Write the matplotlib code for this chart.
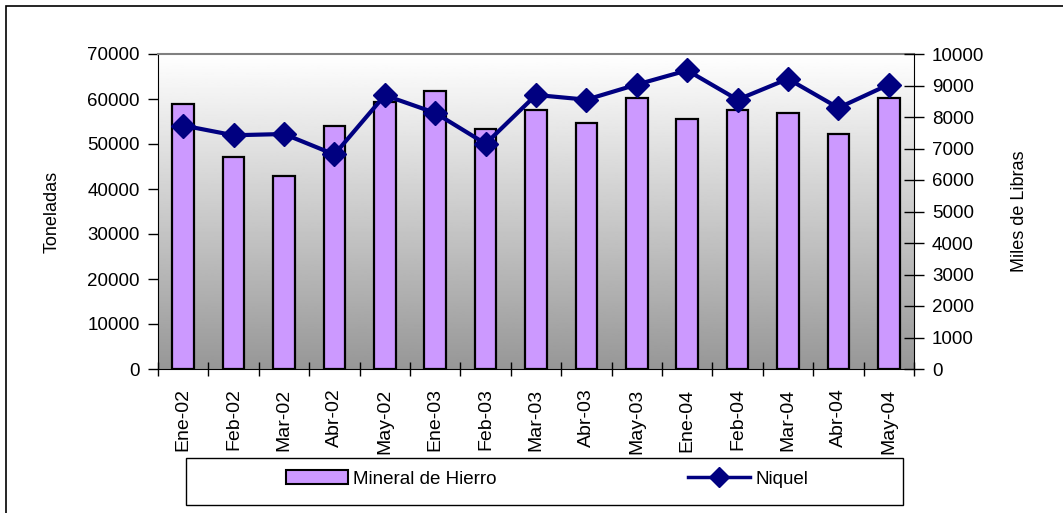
import numpy as np
import matplotlib.pyplot as plt
from matplotlib.patches import Rectangle
from matplotlib.lines import Line2D

plt.rcParams['font.family'] = ['Liberation Sans', 'DejaVu Sans']

meses = ['Ene-02', 'Feb-02', 'Mar-02', 'Abr-02', 'May-02',
         'Ene-03', 'Feb-03', 'Mar-03', 'Abr-03', 'May-03',
         'Ene-04', 'Feb-04', 'Mar-04', 'Abr-04', 'May-04']
hierro = [58900, 47200, 43000, 54100, 59400,
          61700, 53300, 57500, 54700, 60300,
          55600, 57500, 57000, 52300, 60300]
niquel = [7730, 7420, 7460, 6810, 8690,
          8130, 7150, 8700, 8550, 9030,
          9480, 8550, 9210, 8290, 9030]

W, H = 1063, 513
fig = plt.figure(figsize=(W / 100, H / 100), dpi=100)
ax = fig.add_axes([158 / W, 1 - 369 / H, (914 - 158) / W, (369 - 54) / H])

# fondo degradado (blanco arriba, gris abajo)
grad = np.linspace(0, 1, 256).reshape(-1, 1)
ax.imshow(grad, cmap='gray', vmin=-1.45, vmax=1, aspect='auto', origin='lower',
          extent=[0, 1, 0, 1], transform=ax.transAxes, zorder=0)

x = np.arange(len(meses))
ax.bar(x, hierro, width=0.43, color='#CC99FF', edgecolor='black', linewidth=1.6, zorder=2)
ax.set_xlim(-0.5, len(meses) - 0.5)
ax.set_ylim(0, 70000)
ax.set_yticks(np.arange(0, 70001, 10000))
ax.set_xticks(x)
ax.set_xticklabels(meses, rotation=90, fontsize=14)
ax.set_xticks(np.arange(-0.5, len(meses), 1), minor=True)
ax.tick_params(axis='x', which='major', length=0, pad=14)
ax.tick_params(axis='x', which='minor', length=10, direction='inout', width=1)
ax.tick_params(axis='y', labelsize=13.5, length=7, direction='out', width=1, pad=6)
ax.set_ylabel('Toneladas', fontsize=13, labelpad=19)
ax.spines['top'].set_color('#808080')
ax.spines['top'].set_linewidth(1.5)
ax.spines['right'].set_visible(False)

ax2 = ax.twinx()
ax2.plot(x, niquel, color='#000080', lw=3, marker='D', markersize=12, zorder=3)
ax2.set_ylim(0, 10000)
ax2.set_yticks(np.arange(0, 10001, 1000))
ax2.tick_params(axis='y', labelsize=13.5, length=14, direction='inout', width=1, pad=6)
ax2.set_ylabel('Miles de Libras', fontsize=13, labelpad=19)
ax2.spines['top'].set_visible(False)
ax2.spines['left'].set_visible(False)
ax2.spines['bottom'].set_visible(False)

# leyenda
fig.patches.append(Rectangle((186 / W, 1 - 505 / H), (903 - 186) / W, 47 / H,
                             transform=fig.transFigure, fill=False,
                             edgecolor='black', linewidth=1))
handles = [Rectangle((0, 0), 1, 1, facecolor='#CC99FF', edgecolor='black', linewidth=1.5),
           Line2D([], [], color='#000080', lw=2.5, marker='D', markersize=10)]
fig.legend(handles, ['Mineral de Hierro', 'Niquel'], loc='center',
           bbox_to_anchor=(547 / W, 1 - 479 / H), ncol=2, frameon=False,
           fontsize=13.5, handlelength=3.3, columnspacing=10.2, handletextpad=0.3)

# borde del grafico
fig.patches.append(Rectangle((6 / W, -0.1), 1.1, 1 - 6 / H + 0.1,
                             transform=fig.transFigure, fill=False,
                             edgecolor='black', linewidth=1.2))

fig.savefig('out.png', dpi=100)
